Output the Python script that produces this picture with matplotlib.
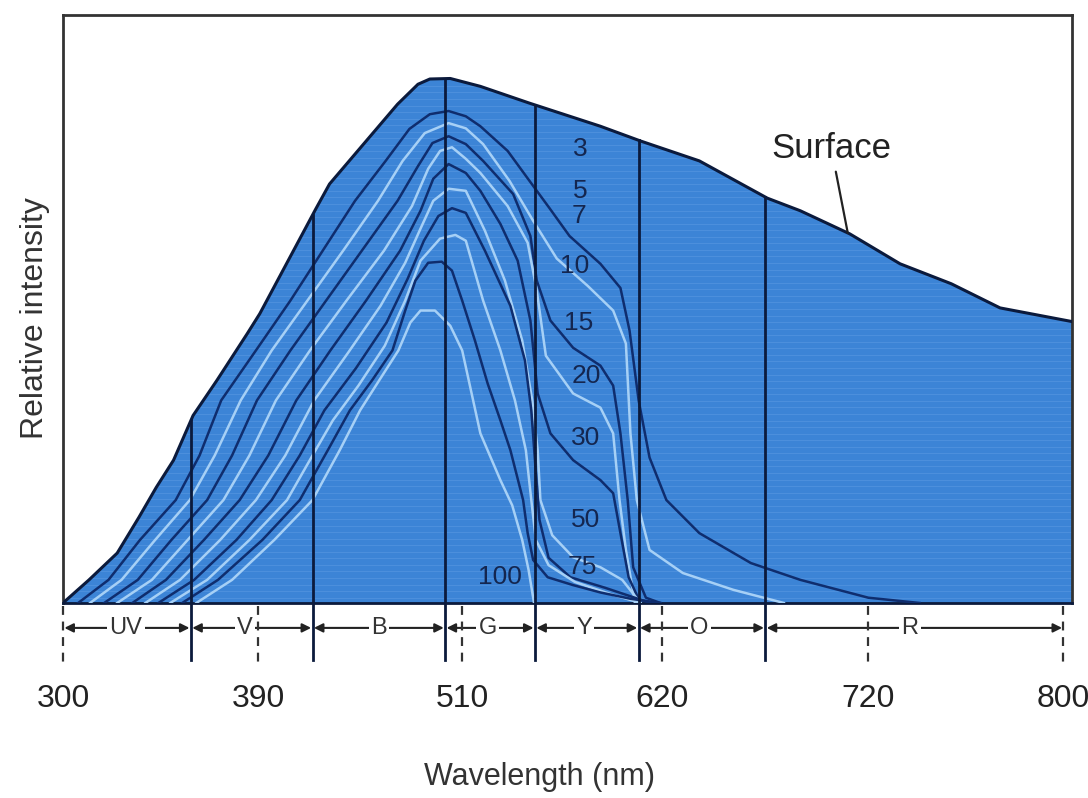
import numpy as np
import matplotlib.pyplot as plt

plt.rcParams['font.family'] = ['Liberation Sans', 'DejaVu Sans']

# wavelength (nm) / relative intensity
surface_x = [300, 312, 325, 335, 343, 351, 360, 371, 385, 391, 424, 432, 452, 472, 484, 491, 503,
             520, 547, 586, 608, 638, 671, 687, 711, 733, 754, 774, 803.5]
surface_y = [0, 4.4, 9.5, 16.3, 22.0, 27.2, 35.7, 42.4, 51.3, 55.1, 75.1, 79.8, 87.4, 95.0, 98.8, 99.8, 99.9,
             98.4, 95.2, 90.8, 88.0, 84.2, 77.1, 74.7, 70.3, 64.6, 60.8, 56.2, 53.6]

d3_x = [307, 321, 335.5, 352, 363, 373, 389, 409, 428, 447, 465, 479, 491, 502, 512, 520, 535, 547, 558, 569,
        586, 597, 602, 607, 613, 622, 638, 663, 687, 720, 741]
d3_y = [0, 4.4, 12.0, 19.6, 28.1, 38.6, 48.1, 57.6, 67.1, 76.6, 84.2, 90.3, 93.1, 93.7, 92.7, 90.8, 86.1, 80.4,
        75.2, 69.9, 64.6, 60.0, 51.9, 38.6, 27.7, 19.6, 13.3, 7.6, 4.4, 1.0, 0]

d5_x = [312.5, 327, 342.5, 358.5, 370, 382, 398, 419, 440, 460.5, 475, 488, 502, 512, 521.5, 536, 549, 562,
        579, 593, 600, 602.5, 606, 613, 630, 654.5, 679]
d5_y = [0, 4.4, 12.0, 19.6, 28.1, 38.6, 48.1, 57.6, 67.1, 76.6, 84.2, 89.5, 91.4, 90.4, 87.4, 80.4, 72.8, 65.6,
        60.4, 55.7, 49.4, 32.3, 19.6, 10.1, 5.7, 2.5, 0]

d7_x = [319, 334.5, 350, 366.5, 378, 389.5, 409, 430, 451, 472, 484, 492.5, 502, 512, 521.5, 538, 547.5, 551,
        558.5, 571, 586, 593, 597, 601, 604, 611, 619]
d7_y = [0, 4.4, 12.0, 19.6, 28.1, 38.6, 48.1, 57.6, 67.1, 76.6, 83.2, 87.6, 88.9, 87.4, 84.2, 77.9, 69.9, 61.4,
        53.8, 48.6, 45.2, 41.4, 32.3, 19.6, 6.8, 1.0, 0]

d10_x = [325, 341, 357.5, 374, 386, 400.5, 420.5, 442, 464, 480.5, 490, 497, 504, 512, 520, 535, 546, 551, 556,
         571, 586, 593, 596.5, 600, 605]
d10_y = [0, 4.4, 12.0, 19.6, 28.1, 38.6, 48.1, 57.6, 67.1, 75.6, 82.7, 86.1, 86.8, 84.6, 81.9, 75.6, 68.6, 59.5,
         47.1, 39.9, 37.2, 32.3, 19.6, 10.1, 0]

d15_x = [332, 347.5, 365, 381.5, 396, 412.5, 432.5, 453.5, 473.5, 485.5, 493, 502, 512, 520, 531, 540.5, 547.5,
         551.5, 558.5, 571, 586, 593, 597, 601.5, 608]
d15_y = [0, 4.4, 12.0, 19.6, 28.1, 38.6, 48.1, 57.6, 67.1, 74.7, 80.8, 83.6, 81.9, 78.5, 72.2, 65.2, 53.8, 39.9,
         32.3, 27.2, 23.4, 20.9, 13.3, 4.9, 0]

d20_x = [338, 354, 372.5, 389, 406, 423, 443, 462, 476.5, 485.5, 493, 502, 512, 522.5, 533.5, 543, 548.5, 551.5,
         553, 559.5, 571, 586, 598, 608]
d20_y = [0, 4.4, 12.0, 19.6, 28.1, 38.6, 47.7, 56.6, 64.8, 71.3, 76.6, 78.9, 78.5, 70.9, 61.4, 50.0, 38.6, 29.1,
         19.6, 12.9, 8.7, 6.8, 4.4, 0]

d30_x = [344, 360.5, 380, 398, 414.5, 429, 447.5, 465.5, 478, 487.5, 496, 504, 512, 522.5, 536.5, 544.5, 548,
         550, 552.5, 557.5, 569.5, 588.5, 613.5]
d30_y = [0, 4.4, 12.0, 19.6, 28.1, 36.7, 44.7, 53.4, 61.8, 69.0, 73.7, 75.2, 74.3, 67.1, 56.6, 46.2, 36.7, 27.2,
         15.8, 8.6, 4.9, 2.9, 0]

d50_x = [349.5, 366.5, 386, 407, 422, 434, 449, 464.5, 476.5, 485.5, 497, 506, 512, 521.5, 531, 539, 545, 548,
         550.5, 557.5, 572, 591.5, 608]
d50_y = [0, 4.4, 12.0, 19.6, 28.1, 34.8, 41.4, 49.0, 57.6, 65.2, 69.4, 70.1, 69.0, 57.6, 48.1, 38.6, 29.1, 19.6,
         12.0, 7.2, 4.0, 1.7, 0]

d75_x = [355, 371.5, 392.5, 414.5, 431, 444, 457, 469, 476.5, 482.5, 490, 498, 504, 510, 517, 524, 531, 536.5,
         543.5, 546, 549, 557, 571, 586, 602.5, 619]
d75_y = [0, 4.4, 12.0, 19.6, 29.1, 36.7, 42.4, 48.1, 55.7, 61.4, 64.8, 65.0, 63.3, 57.6, 50.0, 41.8, 34.8, 29.1,
         19.6, 13.3, 8.2, 4.9, 3.4, 2.0, 0.8, 0]

d100_x = [361.5, 378, 399.5, 422, 438, 450, 462, 472.5, 479.5, 485.5, 494, 503, 510, 520, 531, 537.5, 543,
          546.5, 549.5]
d100_y = [0, 4.4, 12.0, 19.6, 29.1, 36.7, 42.8, 48.1, 53.4, 55.7, 55.7, 52.8, 48.1, 32.3, 23.4, 18.6, 12.0,
          6.3, 0]

depth_labels = ['3', '5', '7', '10', '15', '20', '30', '50', '75', '100']
depth_label_x = [575, 575, 574, 572, 574, 578, 578, 578, 576, 531]
depth_label_y = [86.5, 78.5, 73.7, 64.2, 53.4, 43.3, 31.5, 15.8, 6.8, 4.9]

band_names = ['UV', 'V', 'B', 'G', 'Y', 'O', 'R']
band_edges = [300, 359, 422, 500, 550, 607, 670, 800]
band_label_x = [329, 384, 461, 524, 577, 638, 737]

tick_nm = [300, 390, 510, 620, 720, 800]

# the printed wavelength axis is not linear: ticks sit roughly evenly spaced
SCALE_NM = [200, 300, 390, 510, 620, 720, 800, 900]
SCALE_POS = [-217, 0, 195, 399, 599, 805, 1000, 1244]


def fwd(x):
    return np.interp(x, SCALE_NM, SCALE_POS)


def inv(p):
    return np.interp(p, SCALE_POS, SCALE_NM)


BLUE = '#3c84d6'
DARK = '#0f2d6e'
LIGHT = '#a6d0f6'
INK = '#0b1a3c'

fig = plt.figure(figsize=(10.88, 7.98), dpi=100)
ax = fig.add_axes([0.0579, 0.2444, 0.9274, 0.7362])
ax.set_xscale('function', functions=(fwd, inv))
ax.set_xlim(300, 803.5)
ax.set_ylim(0, 111.9)

area = ax.fill_between(surface_x, surface_y, 0, color=BLUE, lw=0, zorder=1)

# faint horizontal screen lines like the printed halftone
for yy in np.arange(1.0, 100.0, 1.25):
    ln, = ax.plot([300, 803.5], [yy, yy], color='#6aa6e8', lw=0.8, alpha=0.35, zorder=2)
    ln.set_clip_path(area.get_paths()[0], transform=ax.transData)

curves = [(d3_x, d3_y), (d5_x, d5_y), (d7_x, d7_y), (d10_x, d10_y), (d15_x, d15_y),
          (d20_x, d20_y), (d30_x, d30_y), (d50_x, d50_y), (d75_x, d75_y), (d100_x, d100_y)]
for i, (cx, cy) in enumerate(curves):
    col = DARK if i % 2 == 0 else LIGHT
    ax.plot(cx, cy, color=col, lw=1.8, solid_joinstyle='round', zorder=3)

ax.plot(surface_x, surface_y, color=INK, lw=2.2, zorder=5)

# band boundaries, running from under the axis up to the surface curve
for b in band_edges[1:-1]:
    top = np.interp(b, surface_x, surface_y)
    ax.plot([b, b], [-10.8, top], color=INK, lw=2, zorder=4, clip_on=False)

for t in tick_nm:
    ax.plot([t, t], [-0.6, -11.8], color='#333333', lw=1.6, ls=(0, (4, 3)), zorder=4, clip_on=False)

for txt, lx, ly in zip(depth_labels, depth_label_x, depth_label_y):
    ax.text(lx, ly, txt, fontsize=19, color='#14264f', ha='center', va='center', zorder=6)

surf_pt = np.interp(710, surface_x, surface_y)
ax.annotate('Surface', xy=(710, surf_pt), xytext=(702, 86.6), fontsize=25, color='#222222',
            ha='center', va='center', zorder=6,
            arrowprops=dict(arrowstyle='-', color='#222222', lw=1.6, shrinkA=3, shrinkB=0))

# spectral band arrows below the axis
band_y = -4.75
for name, lo, hi, lx in zip(band_names, band_edges[:-1], band_edges[1:], band_label_x):
    for end in (lo, hi):
        ax.annotate('', xy=(end, band_y), xytext=(lx, band_y), annotation_clip=False,
                    arrowprops=dict(arrowstyle='-|>', color='#222222', lw=1.5,
                                    mutation_scale=13, shrinkA=0, shrinkB=1))
    ax.text(lx, band_y, name, fontsize=17, color='#333333', ha='center', va='center', zorder=7,
            bbox=dict(boxstyle='square,pad=0.1', fc='white', ec='none'), clip_on=False)

ax.set_xticks(tick_nm)
ax.set_xticklabels([str(t) for t in tick_nm], fontsize=23, color='#222222')
ax.tick_params(axis='x', length=0, pad=58)
ax.set_yticks([])
ax.xaxis.set_minor_locator(plt.NullLocator())

for side in ['left', 'top', 'right']:
    ax.spines[side].set_color('#333333')
    ax.spines[side].set_linewidth(2)
ax.spines['bottom'].set_color(INK)
ax.spines['bottom'].set_linewidth(2)

fig.text(0.4963, 0.0263, 'Wavelength (nm)', fontsize=22, color='#333333', ha='center', va='center')
fig.text(0.0322, 0.6015, 'Relative intensity', fontsize=23, color='#333333', ha='center', va='center',
         rotation=90)

fig.savefig('out.png', dpi=100)
